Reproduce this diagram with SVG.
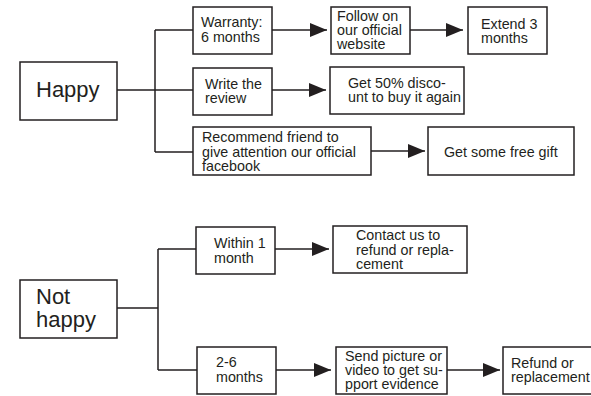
<svg xmlns="http://www.w3.org/2000/svg" width="591" height="396" viewBox="0 0 591 396">
<defs>
<style>
.box{fill:#fff;stroke:#231f20;stroke-width:1.5}
.ln{fill:none;stroke:#231f20;stroke-width:1.5}
.t{font-family:"Liberation Sans",Arial,sans-serif;font-size:14.3px;fill:#231f20}
.big{font-family:"Liberation Sans",Arial,sans-serif;font-size:22px;fill:#231f20}
</style>
<marker id="ah" markerUnits="userSpaceOnUse" markerWidth="17" markerHeight="14" refX="17" refY="7" orient="auto">
<path d="M0,0 L17,7 L0,14 Z" fill="#231f20"/>
</marker>
</defs>
<rect width="591" height="396" fill="#fff"/>
<g id="connectors">
<path class="ln" d="M117,90 H155 M155,30 V152 M155,30 H193 M155,90 H193 M155,152 H193"/>
<line class="ln" x1="272" y1="30" x2="327" y2="30" marker-end="url(#ah)"/>
<line class="ln" x1="410" y1="30" x2="463" y2="30" marker-end="url(#ah)"/>
<line class="ln" x1="272" y1="90" x2="326" y2="90" marker-end="url(#ah)"/>
<line class="ln" x1="371" y1="151" x2="425" y2="151" marker-end="url(#ah)"/>
<path class="ln" d="M117,308 H158 M158,249 V370 M158,249 H196 M158,370 H197"/>
<line class="ln" x1="275" y1="249" x2="329" y2="249" marker-end="url(#ah)"/>
<line class="ln" x1="276" y1="370" x2="331" y2="370" marker-end="url(#ah)"/>
<line class="ln" x1="447" y1="370" x2="500" y2="370" marker-end="url(#ah)"/>
</g>
<g id="happy">
<rect class="box" x="20" y="62" width="97" height="58"/>
<text class="big" x="36" y="97">Happy</text>
</g>
<g id="warranty">
<rect class="box" x="193" y="7" width="79" height="47"/>
<text class="t" x="201" y="27">Warranty:</text>
<text class="t" x="201" y="42">6 months</text>
</g>
<g id="follow">
<rect class="box" x="331" y="7" width="79" height="47"/>
<text class="t" x="337" y="21">Follow on</text>
<text class="t" x="337" y="35">our official</text>
<text class="t" x="337" y="49">website</text>
</g>
<g id="extend">
<rect class="box" x="468" y="7" width="79" height="47"/>
<text class="t" x="481" y="29">Extend 3</text>
<text class="t" x="481" y="43">months</text>
</g>
<g id="review">
<rect class="box" x="193" y="68" width="79" height="47"/>
<text class="t" x="205" y="89">Write the</text>
<text class="t" x="205" y="103">review</text>
</g>
<g id="discount">
<rect class="box" x="330" y="67" width="134" height="47"/>
<text class="t" x="348" y="88">Get 50% disco-</text>
<text class="t" x="348" y="102">unt to buy it again</text>
</g>
<g id="recommend">
<rect class="box" x="193" y="127" width="178" height="48"/>
<text class="t" x="202" y="142">Recommend friend to</text>
<text class="t" x="202" y="156.5">give attention our official</text>
<text class="t" x="202" y="171">facebook</text>
</g>
<g id="gift">
<rect class="box" x="428" y="127" width="146" height="48"/>
<text class="t" x="444" y="157">Get some free gift</text>
</g>
<g id="nothappy">
<rect class="box" x="20" y="280" width="97" height="58"/>
<text class="big" x="36" y="304">Not</text>
<text class="big" x="36" y="327">happy</text>
</g>
<g id="within">
<rect class="box" x="196" y="227" width="79" height="47"/>
<text class="t" x="214" y="248">Within 1</text>
<text class="t" x="214" y="263">month</text>
</g>
<g id="contact">
<rect class="box" x="333" y="226" width="134" height="47"/>
<text class="t" x="356" y="240">Contact us to</text>
<text class="t" x="356" y="255">refund or repla-</text>
<text class="t" x="356" y="269">cement</text>
</g>
<g id="twosix">
<rect class="box" x="197" y="347" width="79" height="47"/>
<text class="t" x="216" y="367">2-6</text>
<text class="t" x="216" y="382">months</text>
</g>
<g id="send">
<rect class="box" x="336" y="347" width="111" height="47"/>
<text class="t" x="345" y="361">Send picture or</text>
<text class="t" x="345" y="375">video to get su-</text>
<text class="t" x="345" y="389">pport evidence</text>
</g>
<g id="refund">
<rect class="box" x="503" y="347" width="92" height="47"/>
<text class="t" x="511" y="368">Refund or</text>
<text class="t" x="511" y="382">replacement</text>
</g>
</svg>
